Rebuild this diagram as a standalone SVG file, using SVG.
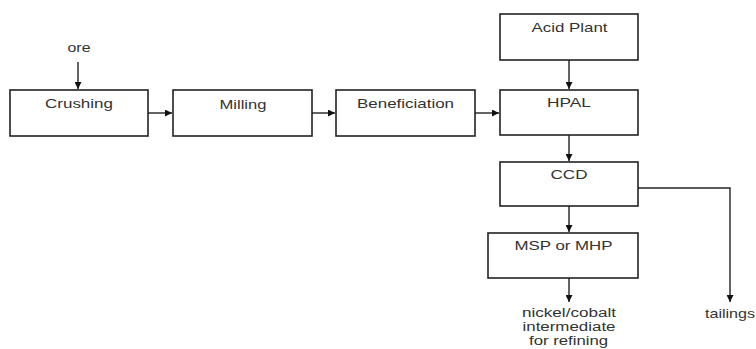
<svg xmlns="http://www.w3.org/2000/svg" width="756" height="349" viewBox="0 0 756 349">
<style>
.box{fill:#fff;stroke:#222;stroke-width:1.6}
.t{font-family:"Liberation Sans",Arial,sans-serif;font-size:13px;fill:#333;text-anchor:middle}
.s{font-size:12px}
.c{fill:none;stroke:#222;stroke-width:1.4}
</style>
<defs>
<marker id="a" viewBox="0 0 10 10" refX="10" refY="5" markerWidth="7" markerHeight="7" markerUnits="userSpaceOnUse" orient="auto">
<path d="M0,0 L10,5 L0,10 z" fill="#111"/>
</marker>
</defs>
<rect width="756" height="349" fill="#fff"/>
<g id="crushing"><rect class="box" x="10" y="90" width="138" height="46"/><text class="t" x="79" y="108" textLength="68" lengthAdjust="spacingAndGlyphs">Crushing</text></g>
<g id="milling"><rect class="box" x="173" y="90" width="139" height="46"/><text class="t" x="243" y="109" textLength="47" lengthAdjust="spacingAndGlyphs">Milling</text></g>
<g id="beneficiation"><rect class="box" x="336" y="90" width="139" height="46"/><text class="t" x="405.5" y="108" textLength="97" lengthAdjust="spacingAndGlyphs">Beneficiation</text></g>
<g id="acid"><rect class="box" x="500" y="14" width="138" height="46"/><text class="t" x="569.5" y="32" textLength="76" lengthAdjust="spacingAndGlyphs">Acid Plant</text></g>
<g id="hpal"><rect class="box" x="500" y="90" width="138" height="45"/><text class="t" x="569" y="107" textLength="44" lengthAdjust="spacingAndGlyphs">HPAL</text></g>
<g id="ccd"><rect class="box" x="500" y="162" width="138" height="44"/><text class="t" x="569" y="179" textLength="37" lengthAdjust="spacingAndGlyphs">CCD</text></g>
<g id="msp"><rect class="box" x="488" y="233" width="150" height="45"/><text class="t" x="563.5" y="250" textLength="98" lengthAdjust="spacingAndGlyphs">MSP or MHP</text></g>
<g id="ore"><text class="t" x="79" y="52" textLength="23" lengthAdjust="spacingAndGlyphs">ore</text></g>
<g id="product"><text class="t s" x="569" y="317" textLength="94" lengthAdjust="spacingAndGlyphs">nickel/cobalt</text><text class="t s" x="569" y="331" textLength="93" lengthAdjust="spacingAndGlyphs">intermediate</text><text class="t s" x="568.5" y="345" textLength="79" lengthAdjust="spacingAndGlyphs">for refining</text></g>
<g id="tailings"><text class="t" x="705" y="318" style="text-anchor:start" textLength="50" lengthAdjust="spacingAndGlyphs">tailings</text></g>
<g id="connectors">
<line class="c" x1="78" y1="62" x2="78" y2="89" marker-end="url(#a)"/>
<line class="c" x1="148" y1="113" x2="172" y2="113" marker-end="url(#a)"/>
<line class="c" x1="312" y1="113" x2="335" y2="113" marker-end="url(#a)"/>
<line class="c" x1="475" y1="113" x2="499" y2="113" marker-end="url(#a)"/>
<line class="c" x1="569" y1="60" x2="569" y2="89" marker-end="url(#a)"/>
<line class="c" x1="569" y1="135" x2="569" y2="161" marker-end="url(#a)"/>
<line class="c" x1="569" y1="206" x2="569" y2="232" marker-end="url(#a)"/>
<line class="c" x1="569" y1="278" x2="569" y2="302" marker-end="url(#a)"/>
<polyline class="c" points="638,188 730,188 730,302" marker-end="url(#a)"/>
</g>
</svg>
